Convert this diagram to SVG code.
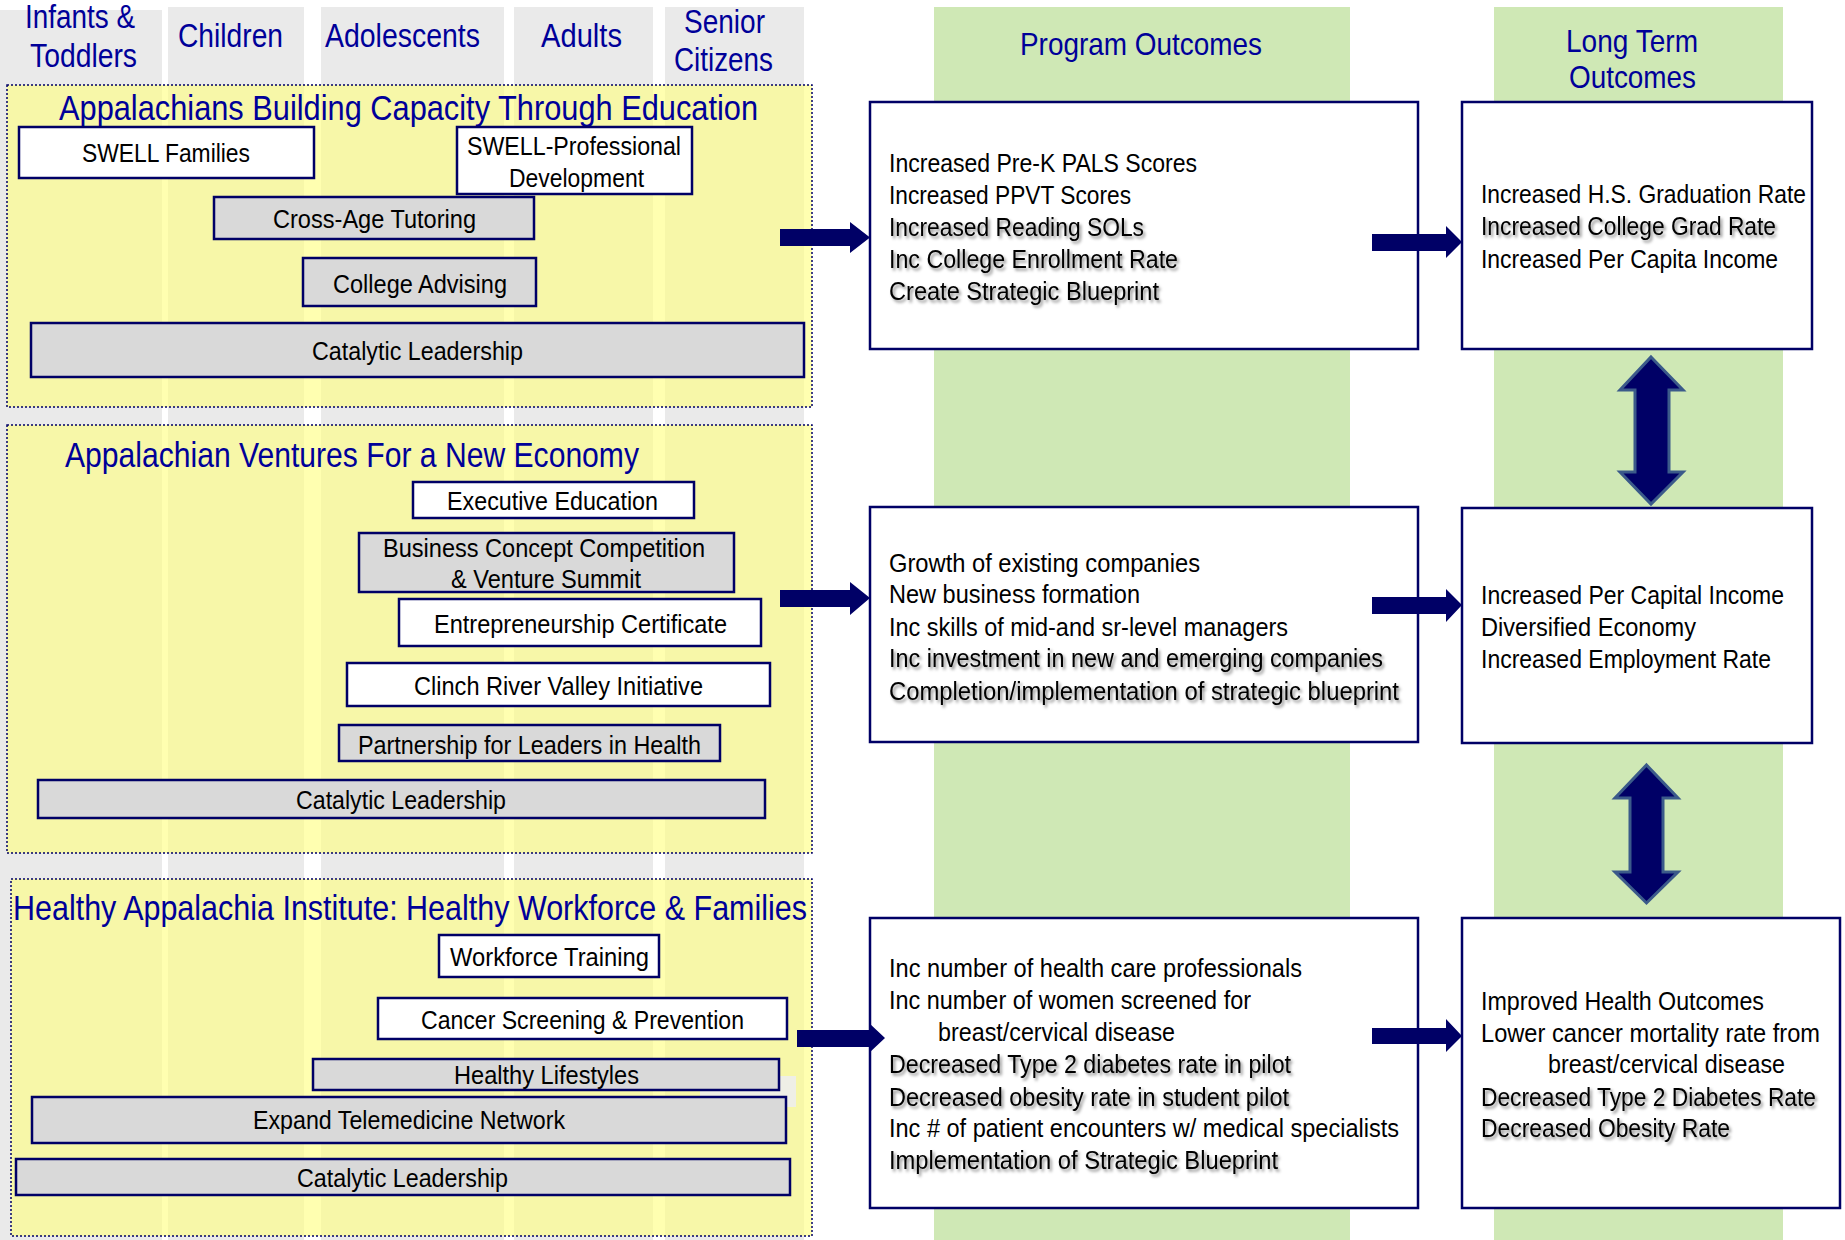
<svg xmlns="http://www.w3.org/2000/svg" width="1845" height="1240" viewBox="0 0 1845 1240">
<defs>
<style>
text{font-family:"Liberation Sans Narrow","Arial Narrow","Liberation Sans",Arial,sans-serif;}
.hd{font-size:34px;fill:#000099;}
.st{font-size:35px;fill:#000099;}
.bx{stroke:#000066;stroke-width:2.5;}
.w{fill:#ffffff;}
.g{fill:#d9d9d9;}
.bt{font-size:25px;fill:#000000;}
.ot{font-size:25.5px;fill:#000000;}
.sh{filter:url(#shadow);}
.col{fill:#eaeaea;}
.grn{fill:#cfe8b5;}
.yel{fill:#ffff80;fill-opacity:0.62;stroke:#000066;stroke-width:1.5;stroke-dasharray:2 2;}
.arr{fill:#000066;}
.varr{fill:#000066;stroke:#3b5a8a;stroke-width:3;stroke-linejoin:miter;}
</style>
<filter id="shadow" x="-5%" y="-30%" width="110%" height="160%">
<feDropShadow dx="2" dy="2.5" stdDeviation="1.5" flood-color="#000000" flood-opacity="0.45"/>
</filter>
</defs>
<rect x="0" y="0" width="1845" height="1240" fill="#ffffff"/>

<g id="age-columns">
<rect class="col" x="0" y="10" width="162" height="1230"/>
<rect class="col" x="168" y="7" width="136" height="1233"/>
<rect class="col" x="321" y="7" width="183" height="1233"/>
<rect class="col" x="514" y="7" width="139" height="1233"/>
<rect class="col" x="665" y="7" width="139" height="1233"/>
<rect class="grn" x="934" y="7" width="416" height="1233"/>
<rect class="grn" x="1494" y="7" width="289" height="1233"/>
</g>

<g id="headers">
<text class="hd" x="25" y="28" textLength="110" lengthAdjust="spacingAndGlyphs">Infants &amp;</text>
<text class="hd" x="30" y="67" textLength="107" lengthAdjust="spacingAndGlyphs">Toddlers</text>
<text class="hd" x="178" y="47" textLength="105" lengthAdjust="spacingAndGlyphs">Children</text>
<text class="hd" x="325" y="47" textLength="155" lengthAdjust="spacingAndGlyphs">Adolescents</text>
<text class="hd" x="541" y="47" textLength="81" lengthAdjust="spacingAndGlyphs">Adults</text>
<text class="hd" x="684" y="33" textLength="81" lengthAdjust="spacingAndGlyphs">Senior</text>
<text class="hd" x="674" y="71" textLength="99" lengthAdjust="spacingAndGlyphs">Citizens</text>
<text class="hd" x="1020" y="55" textLength="242" lengthAdjust="spacingAndGlyphs" style="font-size:32px">Program Outcomes</text>
<text class="hd" x="1566" y="52" textLength="132" lengthAdjust="spacingAndGlyphs" style="font-size:32px">Long Term</text>
<text class="hd" x="1569" y="88" textLength="127" lengthAdjust="spacingAndGlyphs" style="font-size:32px">Outcomes</text>
</g>

<g id="section-education">
<rect class="yel" x="7" y="85" width="805" height="322"/>
<text class="st" x="59" y="120" textLength="699" lengthAdjust="spacingAndGlyphs">Appalachians Building Capacity Through Education</text>
</g>
<g id="swell-families"><rect class="bx w" x="19" y="127" width="295" height="51"/><text class="bt" x="82" y="162" textLength="168" lengthAdjust="spacingAndGlyphs">SWELL Families</text></g>
<g id="swell-prof"><rect class="bx w" x="457" y="127" width="235" height="67"/><text class="bt" x="467" y="155" textLength="214" lengthAdjust="spacingAndGlyphs">SWELL-Professional</text><text class="bt" x="509" y="187" textLength="135" lengthAdjust="spacingAndGlyphs">Development</text></g>
<g id="cross-age"><rect class="bx g" x="214" y="197" width="320" height="42"/><text class="bt" x="273" y="228" textLength="203" lengthAdjust="spacingAndGlyphs">Cross-Age Tutoring</text></g>
<g id="college-advising"><rect class="bx g" x="303" y="258" width="233" height="48"/><text class="bt" x="333" y="293" textLength="174" lengthAdjust="spacingAndGlyphs">College Advising</text></g>
<g id="catalytic-1"><rect class="bx g" x="31" y="323" width="773" height="54"/><text class="bt" x="312" y="360" textLength="211" lengthAdjust="spacingAndGlyphs">Catalytic Leadership</text></g>

<g id="section-ventures">
<rect class="yel" x="7" y="425" width="805" height="428"/>
<text class="st" x="65" y="467" textLength="574" lengthAdjust="spacingAndGlyphs">Appalachian Ventures For a New Economy</text>
</g>
<g id="exec-ed"><rect class="bx w" x="413" y="482" width="281" height="36"/><text class="bt" x="447" y="510" textLength="211" lengthAdjust="spacingAndGlyphs">Executive Education</text></g>
<g id="bcc"><rect class="bx g" x="359" y="533" width="375" height="59"/><text class="bt" x="383" y="557" textLength="322" lengthAdjust="spacingAndGlyphs">Business Concept Competition</text><text class="bt" x="451" y="588" textLength="190" lengthAdjust="spacingAndGlyphs">&amp; Venture Summit</text></g>
<g id="entre-cert"><rect class="bx w" x="399" y="599" width="362" height="47"/><text class="bt" x="434" y="633" textLength="293" lengthAdjust="spacingAndGlyphs">Entrepreneurship Certificate</text></g>
<g id="clinch"><rect class="bx w" x="347" y="663" width="423" height="43"/><text class="bt" x="414" y="695" textLength="289" lengthAdjust="spacingAndGlyphs">Clinch River Valley Initiative</text></g>
<g id="plh"><rect class="bx g" x="339" y="725" width="381" height="36"/><text class="bt" x="358" y="754" textLength="343" lengthAdjust="spacingAndGlyphs">Partnership for Leaders in Health</text></g>
<g id="catalytic-2"><rect class="bx g" x="38" y="780" width="727" height="38"/><text class="bt" x="296" y="809" textLength="210" lengthAdjust="spacingAndGlyphs">Catalytic Leadership</text></g>

<g id="section-health">
<rect class="yel" x="11" y="879" width="801" height="357"/>
<text class="st" x="13" y="920" textLength="794" lengthAdjust="spacingAndGlyphs">Healthy Appalachia Institute: Healthy Workforce &amp; Families</text>
<rect x="700" y="1076" width="96" height="31" fill="#efefe6"/>
</g>
<g id="workforce"><rect class="bx w" x="439" y="935" width="220" height="42"/><text class="bt" x="450" y="966" textLength="199" lengthAdjust="spacingAndGlyphs">Workforce Training</text></g>
<g id="cancer"><rect class="bx w" x="378" y="998" width="409" height="41"/><text class="bt" x="421" y="1029" textLength="323" lengthAdjust="spacingAndGlyphs">Cancer Screening &amp; Prevention</text></g>
<g id="lifestyles"><rect class="bx g" x="313" y="1059" width="466" height="31"/><text class="bt" x="454" y="1084" textLength="185" lengthAdjust="spacingAndGlyphs">Healthy Lifestyles</text></g>
<g id="telemed"><rect class="bx g" x="32" y="1097" width="754" height="46"/><text class="bt" x="253" y="1129" textLength="312" lengthAdjust="spacingAndGlyphs">Expand Telemedicine Network</text></g>
<g id="catalytic-3"><rect class="bx g" x="16" y="1159" width="774" height="36"/><text class="bt" x="297" y="1187" textLength="211" lengthAdjust="spacingAndGlyphs">Catalytic Leadership</text></g>

<g id="po-education"><rect class="bx w" x="870" y="102" width="548" height="247"/>
<text class="ot" x="889" y="172" textLength="308" lengthAdjust="spacingAndGlyphs">Increased Pre-K PALS Scores</text>
<text class="ot" x="889" y="204" textLength="242" lengthAdjust="spacingAndGlyphs">Increased PPVT Scores</text>
<text class="ot sh" x="889" y="236" textLength="255" lengthAdjust="spacingAndGlyphs">Increased Reading SOLs</text>
<text class="ot sh" x="889" y="268" textLength="289" lengthAdjust="spacingAndGlyphs">Inc College Enrollment Rate</text>
<text class="ot sh" x="889" y="300" textLength="270" lengthAdjust="spacingAndGlyphs">Create Strategic Blueprint</text>
</g>
<g id="lt-education"><rect class="bx w" x="1462" y="102" width="350" height="247"/>
<text class="ot" x="1481" y="203" textLength="325" lengthAdjust="spacingAndGlyphs">Increased H.S. Graduation Rate</text>
<text class="ot sh" x="1481" y="235" textLength="295" lengthAdjust="spacingAndGlyphs">Increased College Grad Rate</text>
<text class="ot" x="1481" y="268" textLength="297" lengthAdjust="spacingAndGlyphs">Increased Per Capita Income</text>
</g>
<g id="po-ventures"><rect class="bx w" x="870" y="507" width="548" height="235"/>
<text class="ot" x="889" y="572" textLength="311" lengthAdjust="spacingAndGlyphs">Growth of existing companies</text>
<text class="ot" x="889" y="603" textLength="251" lengthAdjust="spacingAndGlyphs">New business formation</text>
<text class="ot" x="889" y="636" textLength="399" lengthAdjust="spacingAndGlyphs">Inc skills of mid-and sr-level managers</text>
<text class="ot sh" x="889" y="667" textLength="494" lengthAdjust="spacingAndGlyphs">Inc investment in new and emerging companies</text>
<text class="ot sh" x="889" y="700" textLength="510" lengthAdjust="spacingAndGlyphs">Completion/implementation of strategic blueprint</text>
</g>
<g id="lt-ventures"><rect class="bx w" x="1462" y="508" width="350" height="235"/>
<text class="ot" x="1481" y="604" textLength="303" lengthAdjust="spacingAndGlyphs">Increased Per Capital Income</text>
<text class="ot" x="1481" y="636" textLength="215" lengthAdjust="spacingAndGlyphs">Diversified Economy</text>
<text class="ot" x="1481" y="668" textLength="290" lengthAdjust="spacingAndGlyphs">Increased Employment Rate</text>
</g>
<g id="po-health"><rect class="bx w" x="870" y="918" width="548" height="290"/>
<text class="ot" x="889" y="977" textLength="413" lengthAdjust="spacingAndGlyphs">Inc number of health care professionals</text>
<text class="ot" x="889" y="1009" textLength="362" lengthAdjust="spacingAndGlyphs">Inc number of women screened for</text>
<text class="ot" x="938" y="1041" textLength="237" lengthAdjust="spacingAndGlyphs">breast/cervical disease</text>
<text class="ot sh" x="889" y="1073" textLength="402" lengthAdjust="spacingAndGlyphs">Decreased Type 2 diabetes rate in pilot</text>
<text class="ot sh" x="889" y="1106" textLength="400" lengthAdjust="spacingAndGlyphs">Decreased obesity rate in student pilot</text>
<text class="ot" x="889" y="1137" textLength="510" lengthAdjust="spacingAndGlyphs">Inc # of patient encounters w/ medical specialists</text>
<text class="ot sh" x="889" y="1169" textLength="389" lengthAdjust="spacingAndGlyphs">Implementation of Strategic Blueprint</text>
</g>
<g id="lt-health"><rect class="bx w" x="1462" y="918" width="378" height="290"/>
<text class="ot" x="1481" y="1010" textLength="283" lengthAdjust="spacingAndGlyphs">Improved Health Outcomes</text>
<text class="ot" x="1481" y="1042" textLength="339" lengthAdjust="spacingAndGlyphs">Lower cancer mortality rate from</text>
<text class="ot" x="1548" y="1073" textLength="237" lengthAdjust="spacingAndGlyphs">breast/cervical disease</text>
<text class="ot sh" x="1481" y="1106" textLength="335" lengthAdjust="spacingAndGlyphs">Decreased Type 2 Diabetes Rate</text>
<text class="ot sh" x="1481" y="1137" textLength="249" lengthAdjust="spacingAndGlyphs">Decreased Obesity Rate</text>
</g>

<g id="connectors">
<polygon class="arr" points="780,229 850,229 850,222 870,237.5 850,253 850,246 780,246"/>
<polygon class="arr" points="1372,234 1446,234 1446,226 1462,242 1446,258 1446,251 1372,251"/>
<polygon class="arr" points="780,590 850,590 850,582 870,598 850,615 850,607 780,607"/>
<polygon class="arr" points="1372,597 1446,597 1446,589 1462,605 1446,622 1446,614 1372,614"/>
<polygon class="arr" points="797,1030 869,1030 869,1023 885,1038 869,1053 869,1047 797,1047"/>
<polygon class="arr" points="1372,1028 1446,1028 1446,1019 1462,1036 1446,1052 1446,1044 1372,1044"/>
<polygon class="varr" points="1651,357 1683,390 1669,390 1669,472 1683,472 1651,504 1620,472 1635,472 1635,390 1620,390"/>
<polygon class="varr" points="1646.5,765 1678,798 1663,798 1663,872 1678,872 1646.5,903 1615,872 1630,872 1630,798 1615,798"/>
</g>
</svg>
